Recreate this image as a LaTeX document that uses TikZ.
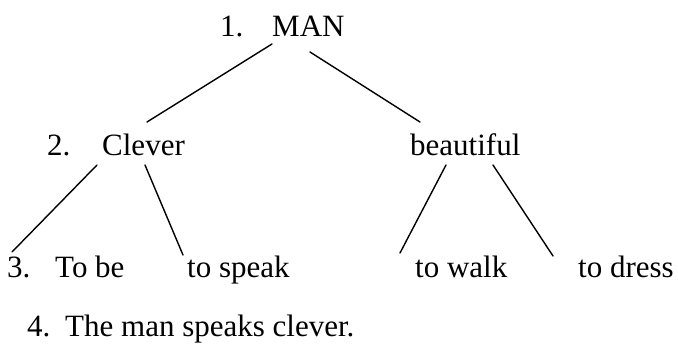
\documentclass[tikz,border=0pt]{standalone}
\usepackage{fontspec}
\setmainfont{Liberation Serif}
\begin{document}
\begin{tikzpicture}[x=1pt,y=1pt,
  word/.style={anchor=base west,inner sep=0pt,font=\fontsize{31}{37}\selectfont},
  branch/.style={line width=1.4pt,line cap=round}]
\useasboundingbox (0,0) rectangle (678,-344);
% top level
\node[word] (n1)  at (220,-37) {1.};
\node[word] (man) at (272,-37) {MAN};
% second level
\node[word] (n2)     at (47,-156)  {2.};
\node[word] (clever) at (102,-156) {Clever};
\node[word] (beaut)  at (410,-156) {beautiful};
% third level
\node[word] (n3)    at (7,-278)   {3.};
\node[word] (tobe)  at (55,-278)  {To be};
\node[word] (speak) at (187,-278) {to speak};
\node[word] (walk)  at (415,-278) {to walk};
\node[word] (dress) at (578,-278) {to dress};
% sentence
\node[word] (n4)   at (27,-337) {4.};
\node[word] (sent) at (65,-337) {The man speaks clever.};
% branches
\draw[branch] ([shift={(0,-7)}]man.base west) -- ([shift={(45,34)}]clever.base west);
\draw[branch] ([shift={(38,-15)}]man.base west) -- ([shift={(10,34)}]beaut.base west);
\draw[branch] ([shift={(-5,-9)}]clever.base west) -- ([shift={(5,26)}]n3.base west);
\draw[branch] ([shift={(43,-9)}]clever.base west) -- ([shift={(-4,23)}]speak.base west);
\draw[branch] ([shift={(36,-9)}]beaut.base west) -- ([shift={(-15,25)}]walk.base west);
\draw[branch] ([shift={(83,-9)}]beaut.base west) -- ([shift={(-25,22)}]dress.base west);
\end{tikzpicture}
\end{document}
